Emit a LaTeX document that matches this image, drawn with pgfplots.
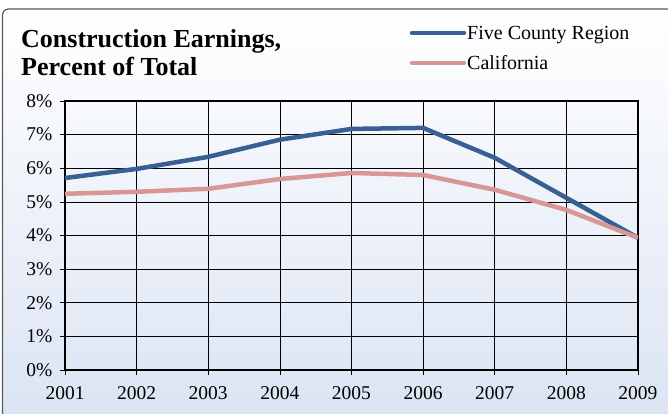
\documentclass[border=0pt]{standalone}
\usepackage{pgfplots}
\pgfplotsset{compat=1.18}
\usepackage{fontspec}
\setmainfont{Liberation Serif}
\definecolor{fcblue}{RGB}{56,96,146}
\definecolor{capink}{RGB}{217,150,148}
\definecolor{bgbot}{RGB}{218,227,243}
\begin{document}
\begin{tikzpicture}
\useasboundingbox (0pt,0pt) rectangle (668pt,413pt);
\begin{scope}
\clip (0pt,0pt) rectangle (668pt,413pt);
\shade[top color=white, bottom color=bgbot, rounded corners=6pt] (2.5pt,-20pt) rectangle (690pt,404pt);
\draw[black!65, line width=1.2pt, rounded corners=6pt] (2.5pt,-20pt) rectangle (690pt,404pt);
\end{scope}
\node[anchor=base west, font=\fontsize{26}{28}\selectfont\bfseries, inner sep=0pt] at (21pt,365pt) {Construction Earnings,};
\node[anchor=base west, font=\fontsize{26}{28}\selectfont\bfseries, inner sep=0pt] at (21pt,337pt) {Percent of Total};
\begin{axis}[
  at={(65pt,43pt)}, anchor=south west,
  scale only axis, width=573pt, height=269pt,
  xmin=2001, xmax=2009, ymin=0, ymax=8,
  xtick={2001,...,2009}, ytick={0,...,8},
  grid=major, major grid style={black, line width=0.7pt},
  axis line style={black, line width=1.1pt},
  tick align=outside, tick pos=left, major tick length=5pt,
  tick style={black, line width=0.7pt},
  /pgf/number format/assume math mode=true,
  xticklabel style={/pgf/number format/1000 sep={}, font=\fontsize{19.5}{22}\selectfont, yshift=-8pt},
  yticklabel style={font=\fontsize{19.5}{22}\selectfont, xshift=-4pt},
  yticklabel={\pgfmathprintnumber{\tick}\%},
]
\addplot[fcblue, line width=4.5pt, line join=round] coordinates {
(2001,5.71) (2002,5.98) (2003,6.34) (2004,6.85) (2005,7.17) (2006,7.20) (2007,6.31) (2008,5.12) (2009,3.93)};
\addplot[capink, line width=4.5pt, line join=round] coordinates {
(2001,5.24) (2002,5.30) (2003,5.39) (2004,5.68) (2005,5.86) (2006,5.80) (2007,5.36) (2008,4.76) (2009,3.93)};
\end{axis}
\draw[fcblue, line width=4.5pt, line cap=round] (412pt,380pt) -- (464pt,380pt);
\draw[capink, line width=4.5pt, line cap=round] (412pt,350pt) -- (464pt,350pt);
\node[anchor=base west, font=\fontsize{20}{22}\selectfont, inner sep=0pt] at (467pt,373pt) {Five County Region};
\node[anchor=base west, font=\fontsize{20}{22}\selectfont, inner sep=0pt] at (467pt,343pt) {California};
\end{tikzpicture}
\end{document}
